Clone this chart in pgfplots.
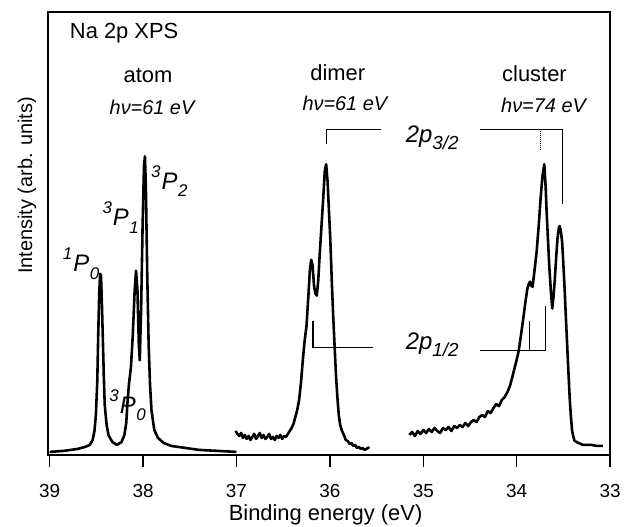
\documentclass[border=0pt]{standalone}
\usepackage{fontspec}
\setmainfont{Liberation Sans}
\usepackage{pgfplots}
\pgfplotsset{compat=1.18}

% peak label: ^{a}P_{b}, italic
\newcommand{\lev}[2]{{\itshape\raisebox{0.5em}{\fontsize{17}{17}\selectfont #1}\kern1pt P\kern0.5pt\raisebox{-0.32em}{\fontsize{17}{17}\selectfont #2}}}
\newcommand{\tp}[1]{{\itshape 2p\raisebox{-0.28em}{\fontsize{19}{19}\selectfont #1}}}

\begin{document}
\begin{tikzpicture}
\begin{axis}[
  scale only axis,
  width=565pt, height=445pt,
  x dir=reverse,
  xmin=33, xmax=39.02,
  ymin=0, ymax=445,
  xtick={33,34,35,36,37,38,39},
  ytick=\empty,
  xtick pos=bottom,
  tick align=outside,
  major tick length=12pt,
  axis line style={line width=1.6pt},
  every tick/.style={line width=1.4pt, black},
  /pgf/number format/assume math mode=true,
  xticklabel style={font=\fontsize{19}{19}\selectfont, yshift=-14pt},
  xlabel={\fontsize{22}{22}\selectfont Binding energy (eV)},
  xlabel style={at={(axis description cs:0.494,-0.1483)}, anchor=base, inner sep=0pt},
  ylabel={\fontsize{20}{20}\selectfont Intensity (arb. units)},
  ylabel style={at={(axis description cs:-0.037,0.608)}, anchor=center},
  clip=false,
  spec/.style={black, line width=2.6pt, no markers, line join=round},
  brk/.style={black, line width=1.2pt, no markers},
]
% atom
\addplot[spec] coordinates {
(39.00,3) (38.85,4) (38.70,6) (38.62,8) (38.57,10) (38.54,15) (38.52,24)
(38.505,40) (38.49,74) (38.48,120) (38.47,160) (38.46,182) (38.45,180)
(38.44,150) (38.43,115) (38.42,78) (38.41,50) (38.39,30) (38.37,20)
(38.33,13) (38.28,10) (38.23,13) (38.20,20) (38.18,32) (38.165,55)
(38.15,72) (38.13,88) (38.11,120) (38.09,165) (38.075,185) (38.06,165)
(38.045,110) (38.035,95) (38.02,150) (38.005,230) (37.99,290) (37.98,300)
(37.97,270) (37.955,180) (37.94,110) (37.925,70) (37.91,45) (37.88,25)
(37.84,17) (37.78,12) (37.70,9) (37.55,7) (37.40,5) (37.20,4) (37.00,3)
};
% dimer
\addplot[spec] coordinates {
(37.01,24) (36.99,21) (36.97,19) (36.95,22) (36.93,17) (36.91,20) (36.89,16)
(36.87,19) (36.85,15) (36.83,18) (36.81,21) (36.79,16) (36.77,19) (36.75,22)
(36.73,17) (36.71,20) (36.69,16) (36.67,18) (36.65,21) (36.63,16) (36.61,18)
(36.59,15) (36.57,19) (36.55,17) (36.53,20) (36.51,16) (36.49,19) (36.47,18)
(36.45,21) (36.43,24) (36.41,27) (36.39,31) (36.37,38) (36.35,45) (36.33,55)
(36.31,72) (36.29,95) (36.27,115) (36.25,130) (36.23,160) (36.215,185)
(36.20,196) (36.185,190) (36.17,170) (36.155,162) (36.14,160) (36.125,175)
(36.11,200) (36.09,230) (36.07,260) (36.055,285) (36.04,292) (36.025,275)
(36.01,245) (35.995,215) (35.98,175) (35.965,140) (35.95,110) (35.935,80)
(35.92,58) (35.905,40) (35.89,30) (35.87,24) (35.85,20) (35.83,15) (35.81,14)
(35.79,11) (35.77,12) (35.75,9) (35.73,10) (35.71,7) (35.69,8) (35.67,6)
(35.65,7) (35.63,5) (35.61,6) (35.59,7) (35.58,8)
};
% cluster
\addplot[spec] coordinates {
(35.15,20) (35.12,23) (35.09,19) (35.06,24) (35.03,21) (35.00,25) (34.97,22)
(34.94,26) (34.91,23) (34.88,27) (34.85,24) (34.82,22) (34.79,27) (34.76,25)
(34.73,28) (34.70,24) (34.67,29) (34.64,27) (34.61,30) (34.58,28) (34.55,32)
(34.52,29) (34.49,33) (34.46,35) (34.43,33) (34.40,38) (34.37,40) (34.34,38)
(34.31,44) (34.28,42) (34.25,47) (34.22,51) (34.19,49) (34.16,55) (34.13,58)
(34.10,63) (34.07,70) (34.04,81) (34.01,92) (33.98,104) (33.955,120)
(33.93,137) (33.905,155) (33.886,167) (33.87,172) (33.858,174) (33.845,170)
(33.83,169) (33.81,185) (33.787,204) (33.765,230) (33.745,257) (33.725,280)
(33.705,292) (33.69,268) (33.68,244) (33.665,215) (33.652,190) (33.635,165)
(33.62,147) (33.605,160) (33.592,177) (33.578,198) (33.564,217) (33.55,228)
(33.54,230) (33.527,224) (33.514,214) (33.50,190) (33.486,164) (33.473,136)
(33.46,110) (33.446,82) (33.433,57) (33.42,38) (33.407,24) (33.393,18)
(33.38,14) (33.34,12) (33.29,10) (33.20,10) (33.14,9) (33.078,9)
};
% spin-orbit brackets
\addplot[brk] coordinates {(36.039,312) (36.039,327) (35.454,327)};
\addplot[brk] coordinates {(36.181,134) (36.181,108) (35.543,108)};
\addplot[brk] coordinates {(34.39,327) (33.514,327) (33.514,252)};
\addplot[brk, line width=1pt, densely dotted] coordinates {(33.745,327) (33.745,305)};
\addplot[brk] coordinates {(34.39,105) (33.691,105) (33.691,150)};
\addplot[brk] coordinates {(33.865,134) (33.865,105)};

\node[anchor=west, font=\fontsize{22}{22}\selectfont] at (axis cs:38.82,424) {Na 2p XPS};
\node[font=\fontsize{22}{22}\selectfont] at (axis cs:37.947,381) {atom};
\node[font=\fontsize{22}{22}\selectfont] at (axis cs:35.915,384) {dimer};
\node[font=\fontsize{22}{22}\selectfont] at (axis cs:33.81,383) {cluster};
\node[font=\fontsize{20}{20}\selectfont\itshape] at (axis cs:37.904,349) {hν=61 eV};
\node[font=\fontsize{20}{20}\selectfont\itshape] at (axis cs:35.84,353) {hν=61 eV};
\node[font=\fontsize{20}{20}\selectfont\itshape] at (axis cs:33.713,351) {hν=74 eV};

\node[anchor=base west, inner sep=0pt, font=\fontsize{24}{24}\selectfont] at (axis cs:38.86,184) {\lev{1}{0}};
\node[anchor=base west, inner sep=0pt, font=\fontsize{24}{24}\selectfont] at (axis cs:38.436,230) {\lev{3}{1}};
\node[anchor=base west, inner sep=0pt, font=\fontsize{24}{24}\selectfont] at (axis cs:37.915,267) {\lev{3}{2}};
\node[anchor=base west, inner sep=0pt, font=\fontsize{24}{24}\selectfont] at (axis cs:38.362,42) {\lev{3}{0}};

\node[anchor=base west, inner sep=0pt, font=\fontsize{24}{24}\selectfont] at (axis cs:35.19,314) {\tp{3/2}};
\node[anchor=base west, inner sep=0pt, font=\fontsize{24}{24}\selectfont] at (axis cs:35.19,106) {\tp{1/2}};
\end{axis}
\path (current axis.south west) ++(-48pt,-72pt) (current axis.north east) ++(11pt,12pt);
\end{tikzpicture}
\end{document}
